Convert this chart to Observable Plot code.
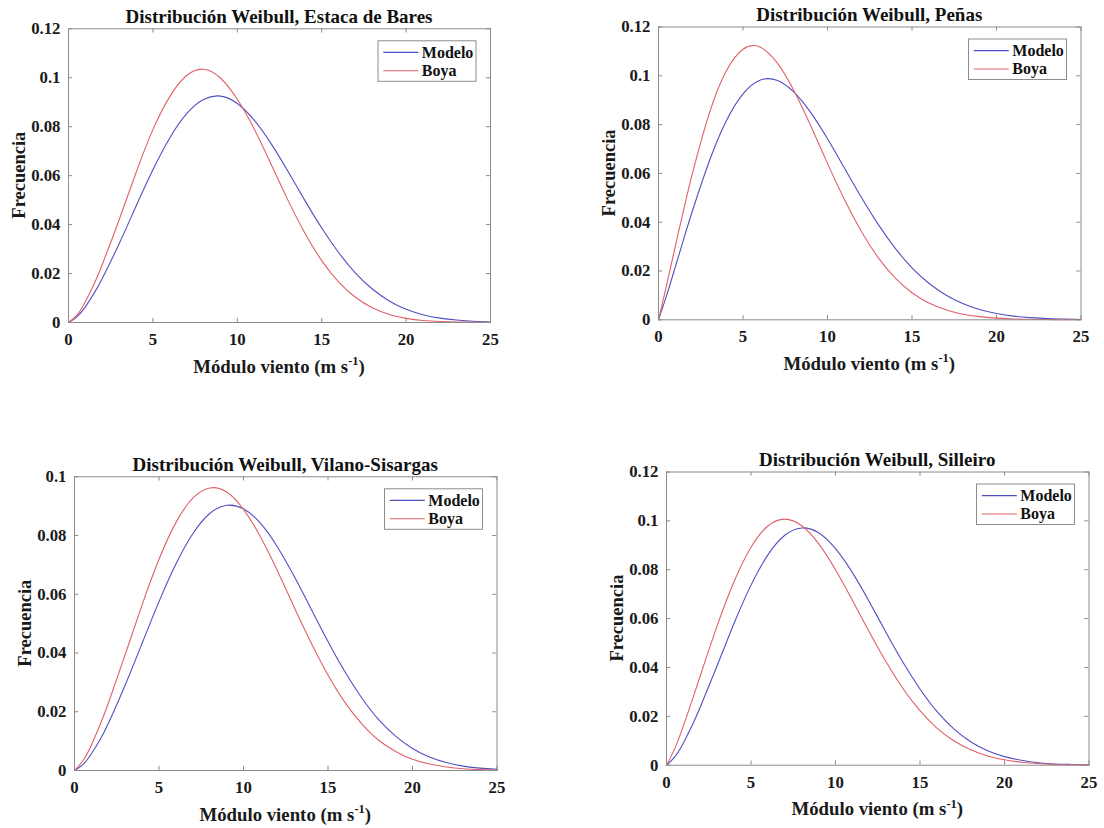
<!DOCTYPE html>
<html>
<head>
<meta charset="utf-8">
<script src="https://cdn.jsdelivr.net/npm/d3@7"></script>
<script src="https://cdn.jsdelivr.net/npm/@observablehq/plot@0.6"></script>
<style>
  body { margin: 0; background: #fff; }
  #root { position: relative; width: 1104px; height: 828px; background: #fff; overflow: hidden; }
  .panel { position: absolute; width: 552px; height: 414px; }
  .panel svg, .panel svg text { font-family: "Liberation Serif", "Tinos", "Times New Roman", "DejaVu Serif", serif !important; }
</style>
</head>
<body>
<div id="root"></div>
<script>
// ---- data ----
const windSpeed = [0,0.5,1,1.5,2,3,4,5,6,7,8,9,10,11,12,13,14,15,16,17,18,19,20,21,22,23,24,25];

const estacaModelo = [0,0.0023,0.0064,0.0118,0.0180,0.0322,0.0475,0.0624,0.0754,0.0853,0.0911,0.0925,0.0895,0.0827,0.0731,0.0618,0.0499,0.0386,0.0286,0.0202,0.0137,0.0088,0.0054,0.0032,0.0018,0.0010,0.0005,0.0002];
const estacaBoya   = [0,0.0030,0.0085,0.0155,0.0237,0.0420,0.0612,0.0788,0.0923,0.1009,0.1035,0.0999,0.0912,0.0791,0.0647,0.0500,0.0366,0.0253,0.0166,0.0103,0.0060,0.0033,0.0017,0.0008,0.0004,0.0002,0.0001,0.0000];

const penasModelo  = [0,0.0104,0.0218,0.0333,0.0445,0.0649,0.0814,0.0926,0.0982,0.0982,0.0934,0.0850,0.0742,0.0622,0.0502,0.0391,0.0294,0.0213,0.0150,0.0102,0.0067,0.0042,0.0026,0.0015,0.0009,0.0005,0.0003,0.0001];
const penasBoya    = [0,0.0148,0.0303,0.0455,0.0598,0.0845,0.1019,0.1109,0.1118,0.1055,0.0941,0.0796,0.0641,0.0493,0.0363,0.0255,0.0172,0.0111,0.0069,0.0041,0.0023,0.0013,0.0007,0.0003,0.0002,0.0001,0.0000,0.0000];

const vilanoModelo = [0,0.0020,0.0057,0.0104,0.0160,0.0291,0.0433,0.0575,0.0703,0.0806,0.0875,0.0903,0.0891,0.0842,0.0762,0.0661,0.0550,0.0439,0.0336,0.0247,0.0173,0.0117,0.0075,0.0046,0.0027,0.0015,0.0008,0.0004];
const vilanoBoya   = [0,0.0033,0.0087,0.0154,0.0229,0.0395,0.0564,0.0719,0.0844,0.0927,0.0962,0.0948,0.0889,0.0796,0.0681,0.0556,0.0435,0.0325,0.0232,0.0159,0.0103,0.0065,0.0038,0.0022,0.0012,0.0006,0.0003,0.0001];

const silleiroModelo = [0,0.0035,0.0091,0.0160,0.0238,0.0408,0.0581,0.0737,0.0861,0.0941,0.0971,0.0951,0.0886,0.0788,0.0669,0.0542,0.0420,0.0312,0.0220,0.0149,0.0096,0.0059,0.0035,0.0020,0.0010,0.0005,0.0003,0.0001];
const silleiroBoya   = [0,0.0070,0.0161,0.0262,0.0366,0.0571,0.0752,0.0892,0.0979,0.1007,0.0980,0.0907,0.0800,0.0675,0.0545,0.0422,0.0313,0.0223,0.0152,0.0100,0.0063,0.0038,0.0022,0.0012,0.0007,0.0003,0.0002,0.0001];

const xTicks = [0,5,10,15,20,25];
const yTicks012 = [0,0.02,0.04,0.06,0.08,0.1,0.12];
const yTicks010 = [0,0.02,0.04,0.06,0.08,0.1];
const seriesNames = ["Modelo","Boya"];
const titles = [
  "Distribución Weibull, Estaca de Bares",
  "Distribución Weibull, Peñas",
  "Distribución Weibull, Vilano-Sisargas",
  "Distribución Weibull, Silleiro"
];
const xLabelMain = "Módulo viento (m s";
const xLabelSup = "-1";
const xLabelEnd = ")";
const yLabel = "Frecuencia";

// ---- styling / layout ----
const BLUE = "#5050c0";
const RED = "#e0606a";
const GRAY = "#8c8c8c";
const FONT = "\"Liberation Serif\", \"Tinos\", \"Times New Roman\", \"DejaVu Serif\", serif";

const panels = [
  {title: titles[0], modelo: estacaModelo, boya: estacaBoya, yMax: 0.12, yTicks: yTicks012, left: 0,   top: 0,   m: {l: 68,  r: 62,   t: 28.3, b: 92}},
  {title: titles[1], modelo: penasModelo,  boya: penasBoya,  yMax: 0.12, yTicks: yTicks012, left: 552, top: 0,   m: {l: 106, r: 23.5, t: 26.5, b: 94.7}},
  {title: titles[2], modelo: vilanoModelo, boya: vilanoBoya, yMax: 0.10, yTicks: yTicks010, left: 0,   top: 414, m: {l: 74,  r: 55.5, t: 62.3, b: 58}},
  {title: titles[3], modelo: silleiroModelo, boya: silleiroBoya, yMax: 0.12, yTicks: yTicks012, left: 552, top: 414, m: {l: 114, r: 15.5, t: 57.5, b: 63.3}}
];

const root = document.getElementById("root");

panels.forEach(p => {
  const data = [];
  windSpeed.forEach((v, i) => {
    data.push({v, f: p.modelo[i], s: seriesNames[0]});
    data.push({v, f: p.boya[i], s: seriesNames[1]});
  });
  const W = 552, H = 414;
  const tickLenY = p.yMax * (4.2 / 293);
  const tickLenX = 25 * (4.2 / 422);

  const chart = Plot.plot({
    width: W, height: H,
    marginLeft: p.m.l, marginRight: p.m.r, marginTop: p.m.t, marginBottom: p.m.b,
    style: {fontFamily: FONT, fontSize: "16.8px", fontWeight: "bold", color: "#1a1a1a", background: "transparent", overflow: "visible"},
    x: {domain: [0, 25]},
    y: {domain: [0, p.yMax]},
    color: {domain: seriesNames, range: [BLUE, RED]},
    marks: [
      Plot.ruleX(xTicks, {x: d => d, y1: 0, y2: tickLenY, stroke: GRAY}),
      Plot.ruleX(xTicks, {x: d => d, y1: p.yMax, y2: p.yMax - tickLenY, stroke: GRAY}),
      Plot.ruleY(p.yTicks, {y: d => d, x1: 0, x2: tickLenX, stroke: GRAY}),
      Plot.ruleY(p.yTicks, {y: d => d, x1: 25, x2: 25 - tickLenX, stroke: GRAY}),
      Plot.line(data, {x: "v", y: "f", z: "s", stroke: "s", strokeWidth: 1.1, curve: "natural"}),
      Plot.frame({stroke: GRAY}),
      Plot.axisX(xTicks, {tickSize: 0, tickPadding: 10.5, tickFormat: d => String(d), label: null}),
      Plot.axisY(p.yTicks, {tickSize: 0, tickPadding: 8, tickFormat: d => String(d), label: null})
    ]
  });

  const fl = p.m.l, fr = W - p.m.r, ft = p.m.t, fb = H - p.m.b;
  const svg = d3.select(chart);

  // title
  svg.append("text")
    .attr("x", (fl + fr) / 2).attr("y", ft - 5.6)
    .attr("text-anchor", "middle")
    .style("font-family", FONT).style("font-weight", "bold").style("font-size", "19px")
    .attr("fill", "#111")
    .text(p.title);

  // x label with superscript
  const xl = svg.append("text")
    .attr("x", (fl + fr) / 2).attr("y", fb + 50.5)
    .attr("text-anchor", "middle")
    .style("font-family", FONT).style("font-weight", "bold").style("font-size", "18.8px")
    .attr("fill", "#1a1a1a");
  xl.append("tspan").text(xLabelMain);
  xl.append("tspan").attr("dy", -7.5).style("font-size", "12.5px").text(xLabelSup);
  xl.append("tspan").attr("dy", 7.5).text(xLabelEnd);

  // y label
  svg.append("text")
    .attr("transform", `translate(${fl - 43.5},${(ft + fb) / 2}) rotate(-90)`)
    .attr("text-anchor", "middle")
    .style("font-family", FONT).style("font-weight", "bold").style("font-size", "18.5px")
    .attr("fill", "#1a1a1a")
    .text(yLabel);

  // legend
  const lw = 98, lh = 40.5;
  const lx = fr - 14 - lw, ly = ft + 12.5;
  const lg = svg.append("g").attr("text-anchor", "start");
  lg.append("rect").attr("x", lx).attr("y", ly).attr("width", lw).attr("height", lh)
    .attr("fill", "#fff").attr("stroke", GRAY).attr("stroke-width", 1);
  [[seriesNames[0], BLUE, 11.6], [seriesNames[1], RED, 30]].forEach(([name, col, off]) => {
    lg.append("line").attr("x1", lx + 5.3).attr("x2", lx + 40.3)
      .attr("y1", ly + off).attr("y2", ly + off)
      .attr("stroke", col).attr("stroke-width", 1.1);
    lg.append("text").attr("x", lx + 43.8).attr("y", ly + off + 5.4)
      .attr("text-anchor", "start")
      .style("font-family", FONT).style("font-weight", "bold").style("font-size", "16px")
      .attr("fill", "#111").text(name);
  });

  const div = document.createElement("div");
  div.className = "panel";
  div.style.left = p.left + "px";
  div.style.top = p.top + "px";
  div.appendChild(chart);
  root.appendChild(div);
});
</script>
</body>
</html>
